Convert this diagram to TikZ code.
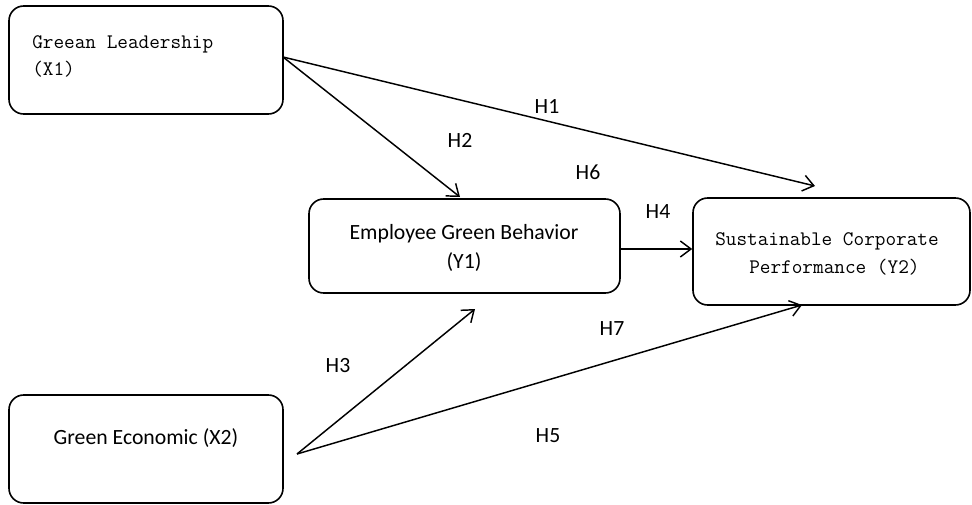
\documentclass[tikz,border=0pt]{standalone}
\usepackage{fontspec}
\setmainfont{Carlito}
\usetikzlibrary{arrows.meta,calc}
\tikzset{
  box/.style={draw, line width=1.2pt, rounded corners=11pt, inner sep=0pt},
  lbl/.style={font=\fontsize{16.3}{19}\selectfont, inner sep=0pt},
  mono/.style={font=\ttfamily\fontsize{15.5}{20}\selectfont, inner sep=0pt},
  arr/.style={line width=1.1pt, -{Straight Barb[length=8pt,width=12pt,line width=1.1pt]}},
}
\begin{document}
\begin{tikzpicture}[x=0.75pt,y=-0.75pt]
\useasboundingbox (0,0) rectangle (972,504);
% boxes
\node[box, minimum width=274*0.75pt, minimum height=108*0.75pt] (x1) at (146,60) {};
\node[box, minimum width=311*0.75pt, minimum height=94*0.75pt] (y1) at (464.5,246) {};
\node[box, minimum width=277*0.75pt, minimum height=107*0.75pt] (y2) at (831.5,251.5) {};
\node[box, minimum width=274*0.75pt, minimum height=108*0.75pt] (x2) at (146,449) {};
% texts
\node[mono, anchor=base west] (t1a) at (32,48) {Greean Leadership};
\node[mono, anchor=base west] (t1b) at (32,75) {(X1)};
\node[lbl] (t2a) at (464,234) {Employee Green Behavior};
\node[lbl] (t2b) at (464,262) {(Y1)};
\node[mono, anchor=base west] (t3a) at (715,245) {Sustainable Corporate};
\node[mono, anchor=base west] (t3b) at (749,273) {Performance (Y2)};
\node[lbl] (t4) at (146,438) {Green Economic (X2)};
% coordinates
\coordinate (s1) at (283,57);
\coordinate (e1) at (815,186);
\coordinate (e2) at (460,197);
\coordinate (s2) at (297,454);
\coordinate (e3) at (475,309);
\coordinate (e7) at (802,305);
% arrows
\draw[arr] (s1) -- (e1);
\draw[arr] (s1) -- (e2);
\draw[arr] (y1.east |- 0,249) -- (y2.west |- 0,249);
\draw[arr] (s2) -- (e3);
\draw[arr] (s2) -- (e7);
% labels
\node[lbl] (h1) at (547,107) {H1};
\node[lbl] (h2) at (460,140) {H2};
\node[lbl] (h6) at (588,172) {H6};
\node[lbl] (h4) at (658,212) {H4};
\node[lbl] (h3) at (338,366) {H3};
\node[lbl] (h7) at (612,329) {H7};
\node[lbl] (h5) at (548,436) {H5};
\end{tikzpicture}
\end{document}
